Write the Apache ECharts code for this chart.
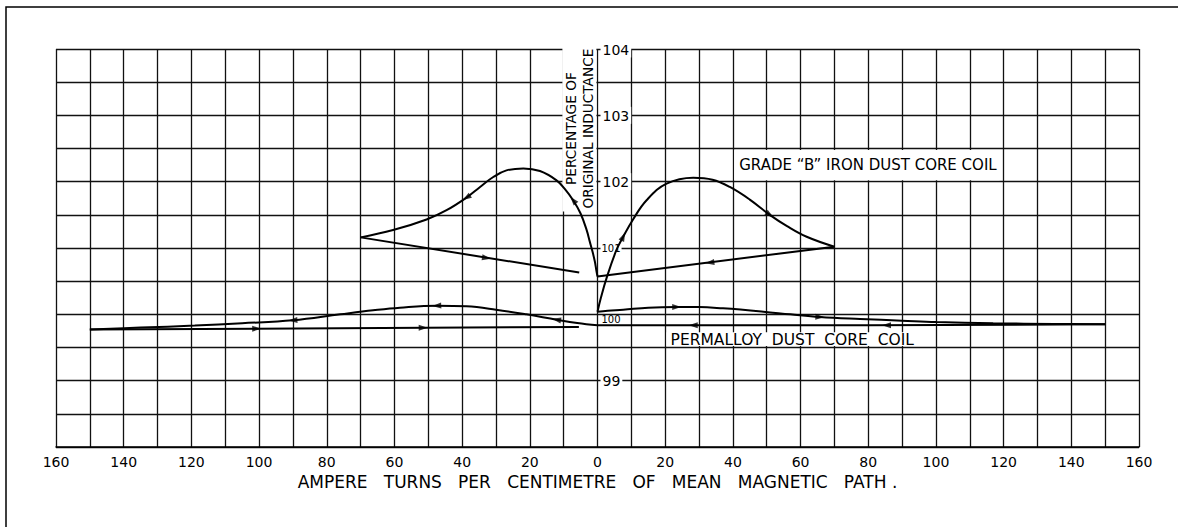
<!DOCTYPE html>
<html>
<head>
<meta charset="utf-8">
<script src="https://cdn.jsdelivr.net/npm/echarts@6/dist/echarts.min.js"></script>
<style>
html,body{margin:0;padding:0;background:#fff;}
#chart{width:1178px;height:527px;}
</style>
</head>
<body>
<div id="chart"></div>
<script>
// ---- data ----
const xTickStep = 10;          // grid spacing, ampere-turns
const xLabelStep = 20;         // labelled every 20
const yLabelValues = [99, 100, 101, 102, 103, 104];

// Grade "B" iron dust core coil
const ironRightRise = [[0,100.04],[1,100.25],[2.7,100.55],[5.6,100.97],[7.6,101.17],[10.5,101.43],[14.5,101.72],[20.4,101.97],[28.3,102.06],[34,102.03],[39.1,101.92],[45,101.73],[50.9,101.5],[56,101.33],[61.8,101.17],[70,101.02]];
const ironRightReturn = [[70,101.02],[0,100.57]];
const ironLeftRise = [[0,100.57],[-0.4,100.68],[-0.8,100.8],[-1.5,100.95],[-2.3,101.1],[-3.2,101.27],[-5,101.52],[-7.2,101.72],[-9.5,101.88],[-12.1,102.02],[-17,102.16],[-21.9,102.2],[-26.9,102.17],[-30.8,102.07],[-34.7,101.92],[-38.7,101.76],[-44.6,101.57],[-50.5,101.43],[-60.4,101.27],[-70,101.16]];
const ironLeftReturn = [[-70,101.16],[-5.4,100.63]];

// Permalloy dust core coil
const permRightUpper = [[0,100.04],[3,100.055],[7.6,100.07],[15,100.1],[23.4,100.11],[30,100.11],[37.1,100.09],[49,100.04],[57,100.0],[65.7,99.96],[77.6,99.93],[90,99.905],[100,99.885],[116.9,99.865],[135,99.855],[150,99.85]];
const permRightLower = [[150,99.85],[80,99.835],[0,99.835]];
const permLeftUpper = [[0,99.835],[-6,99.87],[-12.1,99.92],[-21,100.0],[-30,100.07],[-38.7,100.12],[-47.5,100.13],[-58.4,100.1],[-66.3,100.06],[-76,100.0],[-90,99.91],[-105,99.865],[-119,99.83],[-135,99.8],[-150,99.77]];
const permLeftLower = [[-150,99.77],[-5.5,99.81]];

// direction arrows: [x, y, towardX, towardY]
const ironArrows = [[7.6,101.17,9,101.33],[50.9,101.5,56,101.33],[33.2,100.78,0,100.57],[-38.7,101.76,-44.6,101.57],[-7.2,101.72,-12.1,102.02],[-32.8,100.85,-5.4,100.63]];
const permArrows = [[-90,99.91,-105,99.865],[-47.5,100.13,-58.4,100.1],[-12.1,99.92,-21,100.0],[-100.7,99.784,0,99.81],[-51.5,99.797,0,99.81],[23.4,100.11,30,100.11],[65.7,99.96,77.6,99.93],[28.3,99.835,0,99.835],[85.4,99.835,80,99.835]];

const ironLabel = 'GRADE \u201CB\u201D IRON DUST CORE COIL';
const permLabel = 'PERMALLOY  DUST  CORE  COIL';
const yTitle = 'PERCENTAGE OF\nORIGINAL INDUCTANCE';
const xTitle = 'AMPERE   TURNS   PER   CENTIMETRE   OF   MEAN   MAGNETIC   PATH .';

// ---- chart ----
const INK = '#000';
const FONT = '"DejaVu Sans", sans-serif';
const chart = echarts.init(document.getElementById('chart'), null, {renderer: 'svg'});

function lineSeries(data, smooth) {
  return {
    type: 'line', data: data, smooth: smooth ? 0.4 : false,
    showSymbol: false, symbol: 'none', silent: true, z: 3,
    lineStyle: {color: INK, width: 2}
  };
}

const grid = {left: 56, right: 39, top: 49, bottom: 80, show: false};
const zeroOffset = -(1178 - grid.left - grid.right) / 2;

chart.setOption({
  animation: false,
  backgroundColor: '#fff',
  grid: grid,
  xAxis: {
    type: 'value', min: -160, max: 160, interval: xTickStep,
    axisLine: {show: true, lineStyle: {color: INK, width: 1.5}},
    axisTick: {show: false},
    splitLine: {show: true, lineStyle: {color: '#111', width: 1.3}},
    axisLabel: {
      color: INK, fontFamily: FONT, fontSize: 14, margin: 8,
      formatter: v => (v % xLabelStep === 0 ? String(Math.abs(v)) : '')
    },
    name: xTitle, nameLocation: 'middle', nameGap: 23,
    nameTextStyle: {color: INK, fontFamily: FONT, fontSize: 17}
  },
  yAxis: {
    type: 'value', min: 98, max: 104, interval: 0.5,
    position: 'left', offset: zeroOffset,
    axisLine: {show: false}, axisTick: {show: false},
    splitLine: {show: true, lineStyle: {color: '#111', width: 1.3}},
    axisLabel: {
      inside: true, margin: 3, color: INK, fontFamily: FONT,
      formatter: v => {
        if (yLabelValues.indexOf(v) < 0) return '';
        if (v === 100) return '{lo|' + v + '}';
        if (v === 101) return '{sm|' + v + '}';
        return '{big|' + v + '}';
      },
      rich: {
        big: {fontSize: 14, fontFamily: FONT, color: INK, backgroundColor: '#fff', padding: [2, 2, 1, 2]},
        sm: {fontSize: 10, fontFamily: FONT, color: INK, backgroundColor: '#fff', padding: [0, 1]},
        lo: {fontSize: 10, fontFamily: FONT, color: INK, padding: [10, 1, 0, 1]}
      }
    }
  },
  series: []
});

// arrows: rotation from the pixel direction of each arrow
function arrowData(list) {
  return list.map(a => {
    const p1 = chart.convertToPixel({gridIndex: 0}, [a[0], a[1]]);
    const p2 = chart.convertToPixel({gridIndex: 0}, [a[2], a[3]]);
    const ang = Math.atan2(-(p2[1] - p1[1]), p2[0] - p1[0]) * 180 / Math.PI;
    return {value: [a[0], a[1]], symbolRotate: ang - 90};
  });
}
const arrowSeries = d => ({
  type: 'scatter', data: d, symbol: 'triangle', symbolSize: [6, 9],
  itemStyle: {color: INK}, silent: true, z: 4
});

const px = (x, y) => chart.convertToPixel({gridIndex: 0}, [x, y]);
const ironBoxA = px(40.4, 102.5), ironBoxB = px(118.8, 102);
const permBoxA = px(20.4, 99.73), permBoxB = px(95.6, 99.5);
const yTitlePos = px(-5.35, 102.8);

chart.setOption({
  series: [
    lineSeries(ironRightRise, true),
    lineSeries(ironRightReturn, false),
    lineSeries(ironLeftRise, true),
    lineSeries(ironLeftReturn, false),
    lineSeries(permRightUpper, true),
    lineSeries(permRightLower, false),
    lineSeries(permLeftUpper, true),
    lineSeries(permLeftLower, false),
    arrowSeries(arrowData(ironArrows)),
    arrowSeries(arrowData(permArrows))
  ],
  graphic: [
    {type: 'rect', z: 1, silent: true,
     shape: {x: 6, y: 7, width: 1400, height: 700},
     style: {fill: 'none', stroke: INK, lineWidth: 1.5}},
    {type: 'rect', z: 1, silent: true,
     shape: {x: ironBoxA[0], y: ironBoxA[1] + 1.5, width: ironBoxB[0] - ironBoxA[0], height: ironBoxB[1] - ironBoxA[1] - 3},
     style: {fill: '#fff'}},
    {type: 'text', z: 2, silent: true,
     x: ironBoxA[0] + 5, y: (ironBoxA[1] + ironBoxB[1]) / 2,
     style: {text: ironLabel, fill: INK, font: '15px ' + FONT, textAlign: 'left', textVerticalAlign: 'middle'}},
    {type: 'rect', z: 1, silent: true,
     shape: {x: permBoxA[0], y: permBoxA[1], width: permBoxB[0] - permBoxA[0], height: permBoxB[1] - permBoxA[1] - 1.5},
     style: {fill: '#fff'}},
    {type: 'text', z: 2, silent: true,
     x: permBoxA[0] + 4, y: (permBoxA[1] + permBoxB[1]) / 2,
     style: {text: permLabel, fill: INK, font: '15.5px ' + FONT, textAlign: 'left', textVerticalAlign: 'middle'}},
    {type: 'text', z: 2, silent: true,
     x: yTitlePos[0], y: yTitlePos[1], rotation: Math.PI / 2,
     style: {text: yTitle, fill: INK, font: '13.7px ' + FONT, lineHeight: 17,
             textAlign: 'center', textVerticalAlign: 'middle',
             backgroundColor: '#fff', padding: [0, 3]}}
  ]
});
</script>
</body>
</html>
